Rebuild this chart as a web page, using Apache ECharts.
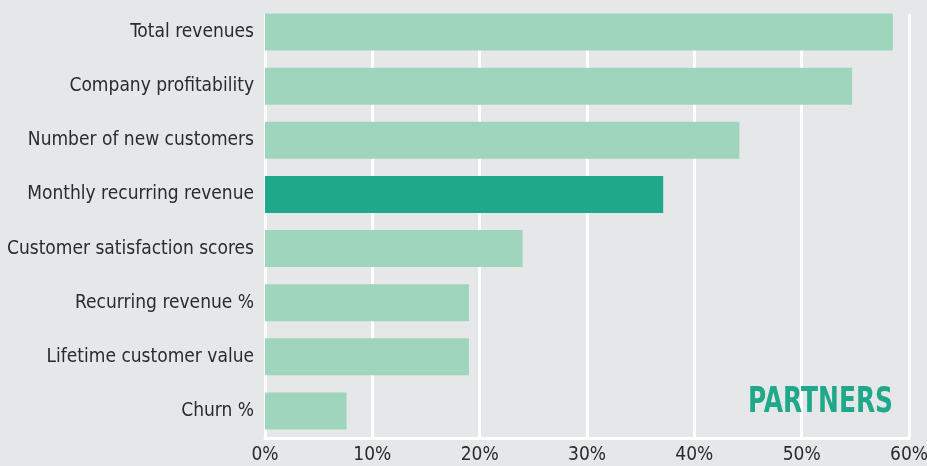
<!DOCTYPE html>
<html>
<head>
<meta charset="utf-8">
<script src="https://cdn.jsdelivr.net/npm/echarts@6/dist/echarts.min.js"></script>
<style>
html,body{margin:0;padding:0;background:#e6e7e9;}
#chart{width:927px;height:466px;}
</style>
</head>
<body>
<div id="chart"></div>
<script>
var categories = ["Total revenues","Company profitability","Number of new customers","Monthly recurring revenue","Customer satisfaction scores","Recurring revenue %","Lifetime customer value","Churn %"];
var values = [58.5, 54.7, 44.2, 37.1, 24.0, 19.0, 19.0, 7.6];
var highlight = "Monthly recurring revenue";
var xTicks = [0, 10, 20, 30, 40, 50, 60];

var FONT = "'Liberation Sans Narrow','DejaVu Sans Condensed','Roboto Condensed',sans-serif";
var chart = echarts.init(document.getElementById('chart'), null, {renderer:'canvas'});
var data = values.map(function(v,i){
  return {value:v, itemStyle:{color: categories[i]===highlight ? '#20a88b' : '#9fd5bd'}};
});
chart.setOption({
  backgroundColor:'#e6e7e9',
  animation:false,
  grid:[
    {left:265, right:18, top:5, bottom:28, containLabel:false, outerBoundsMode:'none'},
    {left:265, right:18, top:14, bottom:29, containLabel:false, outerBoundsMode:'none'}
  ],
  xAxis:[
    {type:'value', gridIndex:0, min:xTicks[0], max:xTicks[xTicks.length-1], interval:10,
     axisLine:{show:true, lineStyle:{color:'#ffffff', width:3}},
     axisTick:{show:false}, splitLine:{show:false},
     axisLabel:{formatter:function(v){return v+'%';}, fontFamily:FONT, fontSize:19, color:'#2b2b2b', margin:8}},
    {type:'value', gridIndex:1, min:xTicks[0], max:xTicks[xTicks.length-1], interval:10,
     axisLine:{show:false}, axisTick:{show:false}, axisLabel:{show:false},
     splitLine:{show:true, lineStyle:{color:'#ffffff', width:3}}}
  ],
  yAxis:[
    {type:'category', gridIndex:0, data:categories, inverse:true,
     axisLine:{show:false}, axisTick:{show:false},
     axisLabel:{fontFamily:FONT, fontSize:19, color:'#2b2b2b', margin:11}},
    {type:'value', gridIndex:1, min:0, max:1, show:false}
  ],
  series:[
    {type:'bar', xAxisIndex:0, yAxisIndex:0, data:data, barWidth:37, z:3},
    {type:'scatter', xAxisIndex:1, yAxisIndex:1, data:[], silent:true}
  ],
  graphic:[
    {type:'text', x:748, y:403, scaleX:0.77, z:10,
     style:{text:'PARTNERS', fill:'#20a88b', font:"bold 36px "+FONT, verticalAlign:'middle', align:'left'}}
  ]
});
</script>
</body>
</html>
